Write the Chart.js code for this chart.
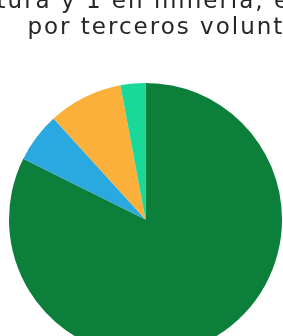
<!DOCTYPE html>
<html>
<head>
<meta charset="utf-8">
<script src="https://cdn.jsdelivr.net/npm/chart.js@4"></script>
<style>
html,body{margin:0;padding:0;overflow:hidden;background:#fff;width:283px;height:336px;position:relative;}
#wrap{position:absolute;left:-250px;top:-14px;}
</style>
</head>
<body>
<div id="wrap"><canvas id="c" width="900" height="372"></canvas></div>
<script>
const titleLines = ["agricultura y 1 en minería, el resto llevado", "por terceros voluntarios."];
const categories = ["Otros sectores", "Industria", "Agricultura", "Minería"];
const values = [28, 2, 3, 1];
const colors = ["#0c7f3a", "#2aa8e0", "#fbb03b", "#1ad898"];

const spacing = {
  id: 'spacing',
  beforeDraw(chart) { chart.ctx.letterSpacing = '2px'; },
  afterDraw(chart) { chart.ctx.letterSpacing = '0px'; }
};

new Chart(document.getElementById('c'), {
  type: 'pie',
  data: {
    labels: categories,
    datasets: [{ data: values, backgroundColor: colors, borderWidth: 0 }]
  },
  options: {
    responsive: false,
    animation: false,
    layout: { padding: { left: 0, right: 13, top: 0, bottom: 2 } },
    plugins: {
      legend: { display: true, position: 'right', maxWidth: 96 },
      tooltip: { enabled: false },
      title: {
        display: true,
        text: titleLines,
        color: '#262626',
        font: { family: 'DejaVu Sans', size: 23, weight: 'normal', lineHeight: 1.13 },
        padding: { top: 3, bottom: 42 }
      }
    }
  },
  plugins: [spacing]
});
</script>
</body>
</html>
